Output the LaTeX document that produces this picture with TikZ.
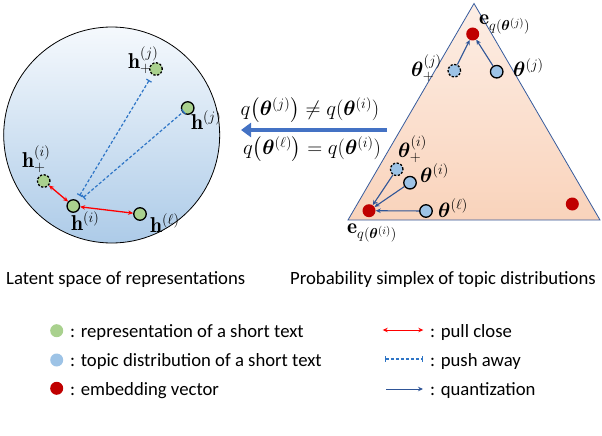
\documentclass[tikz,border=0pt]{standalone}
\usepackage{amsmath}
\usepackage{bm}
\usepackage{fontspec}
\setsansfont{Carlito}
\usetikzlibrary{arrows.meta}
\definecolor{gfill}{HTML}{A9D18E}
\definecolor{bfill}{HTML}{9DC3E6}
\definecolor{rfill}{HTML}{C00000}
\definecolor{pushc}{HTML}{2E75C6}
\definecolor{quantc}{HTML}{2F5597}
\definecolor{bigarrow}{HTML}{4472C4}
\definecolor{circtop}{HTML}{F5F9FD}
\definecolor{circbot}{HTML}{ADCBE8}
\definecolor{tritop}{HTML}{FDEEE5}
\definecolor{trimid}{HTML}{F5BE9B}
\definecolor{tribot}{HTML}{F9D3BB}
\begin{document}
\begin{tikzpicture}[x=1pt,y=-1pt,
  gdot/.style={circle,draw=black,line width=1.3pt,fill=gfill,minimum size=12.5pt,inner sep=0pt},
  bdot/.style={circle,draw=black,line width=1.3pt,fill=bfill,minimum size=12.5pt,inner sep=0pt},
  rdot/.style={circle,fill=rfill,minimum size=13pt,inner sep=0pt},
  ldot/.style={circle,fill=#1,minimum size=13pt,inner sep=0pt},
  dsh/.style={dashed,dash pattern=on 2.2pt off 1.6pt},
  pull/.style={red,line width=1.3pt,{Stealth[length=5pt,width=4.5pt]}-{Stealth[length=5pt,width=4.5pt]}},
  push/.style={pushc,line width=1.2pt,dash pattern=on 3pt off 2pt,{Bar[width=6pt]}-{Bar[width=6pt]}},
  quant/.style={quantc,line width=1.1pt,-{Stealth[length=5pt,width=4.5pt]}},
  mlab/.style={anchor=base west,inner sep=0pt,font=\fontsize{21.5}{23}\selectfont},
  txt/.style={anchor=base west,inner sep=0pt,font=\sffamily\fontsize{18.7}{21}\selectfont}
]
\useasboundingbox (0,0) rectangle (602,436);

% ---------- latent space circle ----------
\shade[top color=circtop,bottom color=circbot] (111.7,135) circle (108);
\draw[line width=0.8pt] (111.7,135) circle (108);

\node[gdot,dsh] (gpj) at (156,69) {};
\node[gdot] (gj) at (187.7,108) {};
\node[gdot,dsh] (gpi) at (43.7,181) {};
\node[gdot] (gi) at (73.3,206) {};
\node[gdot] (gl) at (140,214) {};

\node[mlab] (lpj) at (128,68) {$\mathbf{h}_{+}^{(j)}$};
\node[mlab] (lj) at (191,129) {$\mathbf{h}^{(j)}$};
\node[mlab] (lpi) at (22,167) {$\mathbf{h}_{+}^{(i)}$};
\node[mlab] (li) at (71,230) {$\mathbf{h}^{(i)}$};
\node[mlab] (ll) at (150,232) {$\mathbf{h}^{(\ell)}$};

\draw[pull] (gpi) -- (gi);
\draw[pull] (gi) -- (gl);
\draw[push,shorten <=12pt,shorten >=13pt] (gi.center) -- (gpj.center);
\draw[push,shorten <=13pt,shorten >=5pt] (gi.center) -- (gj.center);

% ---------- middle arrow ----------
\coordinate (ast) at (387,130);
\coordinate (aen) at (241,130);
\draw[bigarrow,line width=4.5pt,-{Triangle[length=10pt,width=14pt]}] (ast) -- (aen);
\node[inner sep=0pt,font=\fontsize{21}{23}\selectfont] (neq) at (310,110) {$q\big(\bm{\theta}^{(j)}\big) \neq q(\bm{\theta}^{(i)})$};
\node[inner sep=0pt,font=\fontsize{21}{23}\selectfont] (eq) at (312,149) {$q\big(\bm{\theta}^{(\ell)}\big) = q(\bm{\theta}^{(i)})$};

% ---------- simplex ----------
\coordinate (ta) at (474,3.5);
\coordinate (tl) at (348,220);
\coordinate (tr) at (600,220);
\shade[top color=tritop,middle color=trimid,bottom color=tribot] (ta) -- (tl) -- (tr) -- cycle;
\draw[bigarrow!80!black,line width=0.8pt] (ta) -- (tl) -- (tr) -- cycle;

\node[rdot] (etop) at (472.7,34) {};
\node[rdot] (ebl) at (369,210.7) {};
\node[rdot] (ebr) at (572.3,204) {};

\node[bdot,dsh] (tpj) at (454.3,70.7) {};
\node[bdot] (tj) at (496.7,71.7) {};
\node[bdot,dsh] (tpi) at (396.7,169.3) {};
\node[bdot] (ti) at (410,182.7) {};
\node[bdot] (tlv) at (426,211) {};

\draw[quant] (tpj) -- (etop);
\draw[quant] (tj) -- (etop);
\draw[quant] (tpi) -- (ebl);
\draw[quant] (ti) -- (ebl);
\draw[quant] (tlv) -- (ebl);

\node[mlab] (letop) at (479,25) {$\mathbf{e}_{q(\bm{\theta}^{(j)})}$};
\node[mlab] (ltpj) at (411,76) {$\bm{\theta}_{+}^{(j)}$};
\node[mlab] (ltj) at (513,77) {$\bm{\theta}^{(j)}$};
\node[mlab] (ltpi) at (398,157) {$\bm{\theta}_{+}^{(i)}$};
\node[mlab] (lti) at (420,182) {$\bm{\theta}^{(i)}$};
\node[mlab] (ltl) at (438,217) {$\bm{\theta}^{(\ell)}$};
\node[mlab] (lebl) at (347,233) {$\mathbf{e}_{q(\bm{\theta}^{(i)})}$};

% ---------- captions ----------
\node[txt] (cap1) at (6,284) {Latent space of representations};
\node[txt] (cap2) at (290,284) {Probability simplex of topic distributions};

% ---------- legend ----------
\node[ldot=gfill] (lg1) at (56.7,330.7) {};
\node[ldot=bfill] (lg2) at (56.7,360) {};
\node[ldot=rfill] (lg3) at (56.7,388.3) {};
\node[txt] (lt1) at (70,337) {: representation of a short text};
\node[txt] (lt2) at (70,366.7) {: topic distribution of a short text};
\node[txt] (lt3) at (70,395.7) {: embedding vector};

\coordinate (p1a) at (382.7,330); \coordinate (p1b) at (423.3,330);
\coordinate (p2a) at (385,359); \coordinate (p2b) at (423,359);
\coordinate (p3a) at (386,389); \coordinate (p3b) at (423,389);
\draw[pull,line width=1pt] (p1a) -- (p1b);
\draw[push,line width=1.1pt] (p2a) -- (p2b);
\draw[quant,line width=1pt] (p3a) -- (p3b);
\node[txt] (rt1) at (430,337) {: pull close};
\node[txt] (rt2) at (430,366.7) {: push away};
\node[txt] (rt3) at (430,395.7) {: quantization};
\end{tikzpicture}
\end{document}
